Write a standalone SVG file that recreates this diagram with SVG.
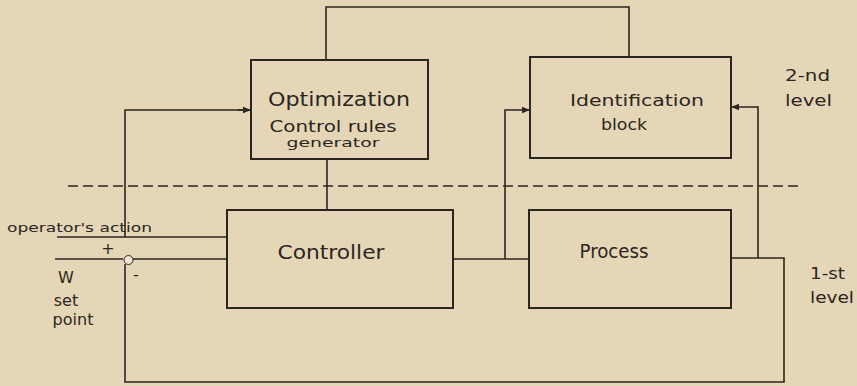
<svg xmlns="http://www.w3.org/2000/svg" width="857" height="386" viewBox="0 0 857 386">
<defs>
<style>
.bg{fill:#e5d6b7}
.box{fill:none;stroke:#2b2620;stroke-width:2}
.ln{fill:none;stroke:#2b2620;stroke-width:1.6}
.dash{fill:none;stroke:#2b2620;stroke-width:1.4;stroke-dasharray:10 5}
text{font-family:"DejaVu Sans","Liberation Sans",sans-serif;fill:#2b2620}
.lg{font-size:19px}
.md{font-size:16px}
.sm{font-size:13px}
</style>
<marker id="ah" viewBox="0 0 10 10" refX="10" refY="5" markerWidth="8" markerHeight="8" markerUnits="userSpaceOnUse" orient="auto">
<path d="M0,1 L10,5 L0,9 z" fill="#2b2620"/>
</marker>
</defs>
<rect class="bg" x="0" y="0" width="857" height="386"/>

<g id="connectors">
<path class="ln" d="M326,60 V7 H629 V57"/>
<path class="ln" d="M251,110 H125 V237"/>
<path class="ln" d="M238,110 H251" marker-end="url(#ah)"/>
<path class="ln" d="M57,237 H227"/>
<path class="ln" d="M55,259 H123 M133,259 H227"/>
<path class="ln" d="M327,159 V210"/>
<path class="ln" d="M453,259 H529"/>
<path class="ln" d="M505,259 V110 H530" marker-end="url(#ah)"/>
<path class="ln" d="M731,258 H784 V382 H125 V264"/>
<path class="ln" d="M758,258 V107 H731" marker-end="url(#ah)"/>
<circle cx="128.5" cy="260" r="4.5" fill="#efe6d3" stroke="#2b2620" stroke-width="1"/>
<path class="dash" d="M68,186 H802"/>
</g>

<g id="optimization">
<rect class="box" x="251" y="60" width="177" height="99"/>
<text class="lg" x="339" y="106" text-anchor="middle" textLength="142" lengthAdjust="spacingAndGlyphs">Optimization</text>
<text class="md" x="333" y="132" text-anchor="middle" textLength="127" lengthAdjust="spacingAndGlyphs">Control rules</text>
<text class="sm" x="333" y="147" text-anchor="middle" textLength="93" lengthAdjust="spacingAndGlyphs">generator</text>
</g>

<g id="identification">
<rect class="box" x="530" y="57" width="201" height="101"/>
<text class="md" x="637" y="106" text-anchor="middle" textLength="134" lengthAdjust="spacingAndGlyphs">Identification</text>
<text class="md" x="624" y="130" text-anchor="middle" textLength="46" lengthAdjust="spacingAndGlyphs">block</text>
</g>

<g id="controller">
<rect class="box" x="227" y="210" width="226" height="98"/>
<text class="lg" x="331" y="259" text-anchor="middle" textLength="107" lengthAdjust="spacingAndGlyphs">Controller</text>
</g>

<g id="process">
<rect class="box" x="529" y="210" width="202" height="98"/>
<text class="lg" x="614" y="258" text-anchor="middle" textLength="69" lengthAdjust="spacingAndGlyphs">Process</text>
</g>

<g id="labels">
<text class="sm" x="7" y="232" textLength="145" lengthAdjust="spacingAndGlyphs">operator's action</text>
<text class="md" x="108" y="254" text-anchor="middle">+</text>
<text class="md" x="136" y="280" text-anchor="middle">-</text>
<text class="md" x="66" y="283" text-anchor="middle">W</text>
<text class="md" x="66" y="306" text-anchor="middle">set</text>
<text class="md" x="73" y="325" text-anchor="middle">point</text>
<text class="md" x="785" y="81" textLength="45" lengthAdjust="spacingAndGlyphs">2-nd</text>
<text class="md" x="785" y="106" textLength="47" lengthAdjust="spacingAndGlyphs">level</text>
<text class="md" x="810" y="279" textLength="35" lengthAdjust="spacingAndGlyphs">1-st</text>
<text class="md" x="810" y="303" textLength="44" lengthAdjust="spacingAndGlyphs">level</text>
</g>
</svg>
